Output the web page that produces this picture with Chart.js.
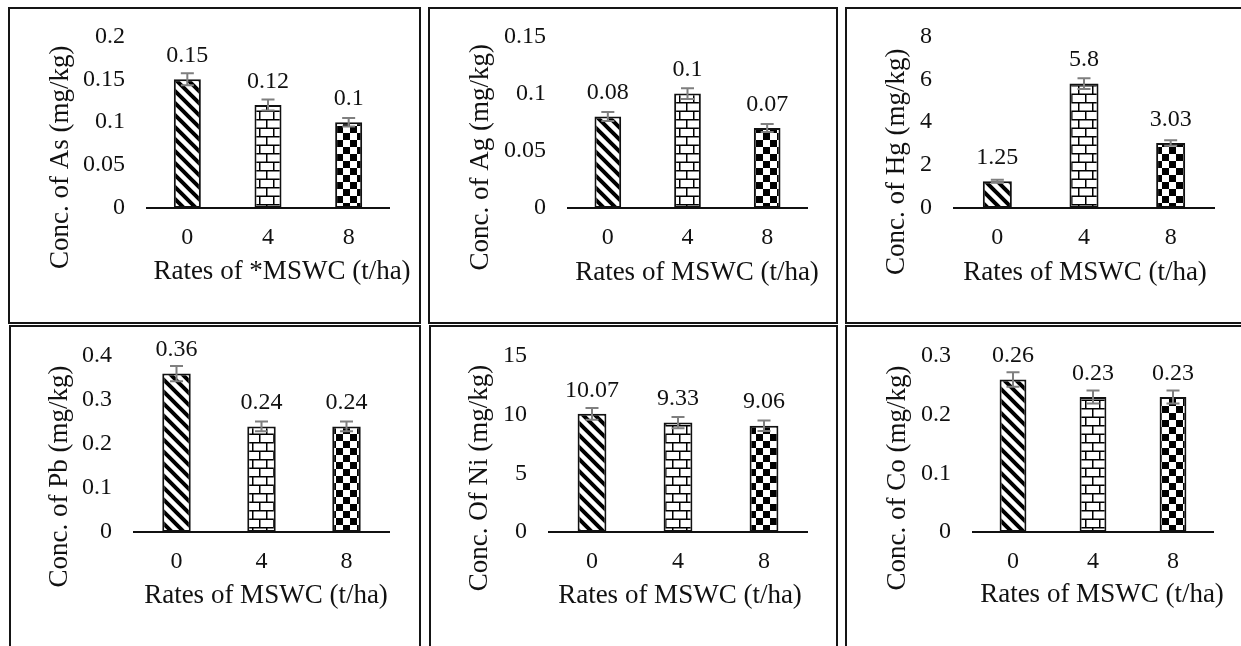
<!DOCTYPE html>
<html>
<head>
<meta charset="utf-8">
<script src="https://cdn.jsdelivr.net/npm/chart.js@4.4.1/dist/chart.umd.min.js"></script>
<style>
html,body{margin:0;padding:0;background:#fff;}
#page{position:relative;width:1241px;height:646px;overflow:hidden;background:#fff;}
.box{position:absolute;border:2px solid #151515;box-sizing:border-box;}
canvas.c{position:absolute;left:0;top:0;pointer-events:none;}
</style>
</head>
<body>
<div id="page">
  <div class="box" style="left:8px;top:7px;width:413px;height:317px"></div>
  <div class="box" style="left:428px;top:7px;width:410px;height:317px"></div>
  <div class="box" style="left:845px;top:7px;width:420px;height:317px"></div>
  <div class="box" style="left:9px;top:325px;width:412px;height:340px"></div>
  <div class="box" style="left:429px;top:325px;width:409px;height:340px"></div>
  <div class="box" style="left:845px;top:325px;width:420px;height:340px"></div>
  <canvas id="c0" class="c" width="1241" height="646"></canvas>
  <canvas id="c1" class="c" width="1241" height="646"></canvas>
  <canvas id="c2" class="c" width="1241" height="646"></canvas>
  <canvas id="c3" class="c" width="1241" height="646"></canvas>
  <canvas id="c4" class="c" width="1241" height="646"></canvas>
  <canvas id="c5" class="c" width="1241" height="646"></canvas>
</div>
<script>
// ---------- data ----------
const rates = ['0', '4', '8'];

const asValues = [0.15, 0.12, 0.1];
const asErrors = [0.007, 0.0065, 0.005];
const asTicks  = ['0', '0.05', '0.1', '0.15', '0.2'];

const agValues = [0.08, 0.1, 0.07];
const agErrors = [0.004, 0.0047, 0.0035];
const agTicks  = ['0', '0.05', '0.1', '0.15'];

const hgValues = [1.25, 5.8, 3.03];
const hgErrors = [0.07, 0.25, 0.13];
const hgTicks  = ['0', '2', '4', '6', '8'];

const pbValues = [0.36, 0.24, 0.24];
const pbErrors = [0.0175, 0.011, 0.011];
const pbTicks  = ['0', '0.1', '0.2', '0.3', '0.4'];

const niValues = [10.07, 9.33, 9.06];
const niErrors = [0.5, 0.48, 0.45];
const niTicks  = ['0', '5', '10', '15'];

const coValues = [0.26, 0.23, 0.23];
const coErrors = [0.0125, 0.011, 0.011];
const coTicks  = ['0', '0.1', '0.2', '0.3'];

const yTitles = ['Conc. of As (mg/kg)', 'Conc. of Ag (mg/kg)', 'Conc. of Hg (mg/kg)',
                 'Conc. of Pb (mg/kg)', 'Conc. Of Ni (mg/kg)', 'Conc. of Co (mg/kg)'];
const xTitles = ['Rates of *MSWC (t/ha)', 'Rates of MSWC (t/ha)', 'Rates of MSWC (t/ha)',
                 'Rates of MSWC (t/ha)', 'Rates of MSWC (t/ha)', 'Rates of MSWC (t/ha)'];

// ---------- layout / style ----------
const W = 1241, H = 646;
const FONT = '"Liberation Serif", "Times New Roman", serif';
const INK = '#111';
const Y_BOX = 90;   // reserved width for y tick labels
const X_BOX = 50;   // reserved height for x tick labels

const panels = [
  {values: asValues, errors: asErrors, ticks: asTicks, max: 0.2,  step: 0.05,
   area: {l: 147, r: 389, t: 36, b: 208},  xT: {dx: 14, dy: 64},  yT: {dx: -86, dy: 35}},
  {values: agValues, errors: agErrors, ticks: agTicks, max: 0.15, step: 0.05,
   area: {l: 568, r: 807, t: 36, b: 208},  xT: {dx: 9.5, dy: 64.5}, yT: {dx: -87, dy: 35}},
  {values: hgValues, errors: hgErrors, ticks: hgTicks, max: 8,    step: 2,
   area: {l: 954, r: 1214, t: 35, b: 208}, xT: {dx: 1, dy: 64.5},  yT: {dx: -57, dy: 39.5}},
  {values: pbValues, errors: pbErrors, ticks: pbTicks, max: 0.4,  step: 0.1,
   area: {l: 134, r: 389, t: 356, b: 532}, xT: {dx: 4.5, dy: 63.5}, yT: {dx: -74, dy: 32.5}},
  {values: niValues, errors: niErrors, ticks: niTicks, max: 15,   step: 5,
   area: {l: 549, r: 807, t: 356, b: 532}, xT: {dx: 2, dy: 63.5},  yT: {dx: -69, dy: 34}},
  {values: coValues, errors: coErrors, ticks: coTicks, max: 0.3,  step: 0.1,
   area: {l: 973, r: 1213, t: 356, b: 532}, xT: {dx: 9, dy: 62.5}, yT: {dx: -75, dy: 34}}
];

// ---------- patterns ----------
function makeTile(w, h, draw) {
  const c = document.createElement('canvas');
  c.width = w; c.height = h;
  const g = c.getContext('2d');
  g.fillStyle = '#fff'; g.fillRect(0, 0, w, h);
  draw(g);
  return c;
}
const diagTile = makeTile(12, 12, g => {
  g.strokeStyle = '#000'; g.lineWidth = 4;
  g.beginPath();
  for (const k of [-12, 0, 12]) { g.moveTo(k - 2, -2); g.lineTo(k + 14, 14); }
  g.stroke();
});
const brickTile = makeTile(14, 17, g => {
  g.strokeStyle = '#000'; g.lineWidth = 1.5;
  g.beginPath();
  g.moveTo(0, 0.75); g.lineTo(14, 0.75);
  g.moveTo(0, 9.25); g.lineTo(14, 9.25);
  g.moveTo(0.75, 0.75); g.lineTo(0.75, 9.25);
  g.moveTo(7.75, 9.25); g.lineTo(7.75, 17);
  g.stroke();
});
const checkTile = makeTile(14, 14, g => {
  g.fillStyle = '#000';
  g.fillRect(0, 0, 7, 7);
  g.fillRect(7, 7, 7, 7);
});

// ---------- annotation plugin: error bars, value labels, axis titles ----------
const annot = {
  id: 'annot',
  afterDatasetsDraw(chart, args, o) {
    const ctx = chart.ctx, ys = chart.scales.y, a = chart.chartArea;
    const meta = chart.getDatasetMeta(0);
    ctx.save();
    ctx.strokeStyle = '#7f7f7f'; ctx.lineWidth = 2;
    o.values.forEach((v, i) => {
      const x = meta.data[i].x, e = o.errors[i];
      const y1 = ys.getPixelForValue(v + e), y2 = ys.getPixelForValue(v - e);
      ctx.beginPath();
      ctx.moveTo(x, y1); ctx.lineTo(x, y2);
      ctx.moveTo(x - 6.5, y1); ctx.lineTo(x + 6.5, y1);
      ctx.moveTo(x - 6.5, y2); ctx.lineTo(x + 6.5, y2);
      ctx.stroke();
    });
    ctx.fillStyle = INK; ctx.textAlign = 'center'; ctx.textBaseline = 'middle';
    ctx.font = '24px ' + FONT;
    o.values.forEach((v, i) => {
      ctx.fillText(String(v), meta.data[i].x, ys.getPixelForValue(v) - 23.5);
    });
    ctx.font = '27px ' + FONT;
    ctx.fillText(o.xTitle, (a.left + a.right) / 2 + o.xT.dx, a.bottom + o.xT.dy);
    ctx.translate(a.left + o.yT.dx, (a.top + a.bottom) / 2 + o.yT.dy);
    ctx.rotate(-Math.PI / 2);
    ctx.fillText(o.yTitle, 0, 0);
    ctx.restore();
  }
};

panels.forEach((p, idx) => {
  const canvas = document.getElementById('c' + idx);
  const c2d = canvas.getContext('2d');
  const fills = [diagTile, brickTile, checkTile].map(t => c2d.createPattern(t, 'repeat'));
  new Chart(canvas, {
    type: 'bar',
    data: {
      labels: rates,
      datasets: [{
        data: p.values,
        backgroundColor: fills,
        borderColor: INK,
        borderWidth: 2,
        borderSkipped: false,
        barPercentage: 0.335,
        categoryPercentage: 1
      }]
    },
    options: {
      responsive: false,
      animation: false,
      events: [],
      layout: {padding: {left: p.area.l - Y_BOX, top: p.area.t, right: W - p.area.r, bottom: H - p.area.b - X_BOX}},
      plugins: {
        legend: {display: false},
        tooltip: {enabled: false},
        annot: {values: p.values, errors: p.errors, xTitle: xTitles[idx], yTitle: yTitles[idx], xT: p.xT, yT: p.yT}
      },
      scales: {
        x: {
          grid: {display: false, drawTicks: false},
          border: {display: true, color: INK, width: 2},
          ticks: {font: {family: FONT, size: 24}, color: INK, padding: 15, maxRotation: 0},
          afterFit(s) { s.height = X_BOX; }
        },
        y: {
          min: 0, max: p.max,
          grid: {display: false, drawTicks: false},
          border: {display: false},
          ticks: {stepSize: p.step, font: {family: FONT, size: 24}, color: INK, padding: 22,
                  callback: (v, i) => p.ticks[i]},
          afterFit(s) { s.width = Y_BOX; }
        }
      }
    },
    plugins: [annot]
  });
});
</script>
</body>
</html>
